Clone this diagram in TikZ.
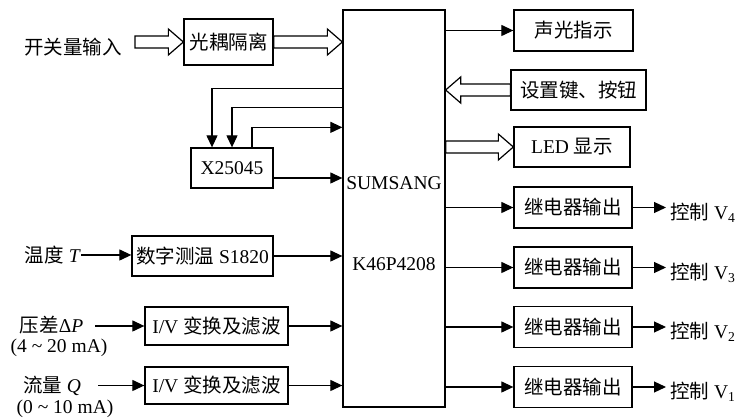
\documentclass[tikz,border=0pt]{standalone}
\usepackage{fontspec}
\setmainfont{Liberation Serif}
\newfontfamily\cjk{Noto Sans CJK SC}
\usetikzlibrary{calc,positioning,arrows.meta}
\newcommand{\zh}[1]{{\cjk #1}}
\tikzset{
    >={Triangle[length=12pt,width=11pt]},
    blokk/.style={
        rectangle,
        draw=black, line width=1.3pt,
        inner sep=0pt,
        text centered,
        font=\fontsize{19.5}{22}\selectfont
    },
    tekst/.style={inner sep=0pt, font=\fontsize{19.5}{22}\selectfont},
    line/.style={draw, line width=1.2pt, ->},
    wire/.style={draw, line width=1.2pt},
    hul/.style={draw, line width=1.2pt, fill=white}
}
\newcommand{\hulpil}[2]{%
    \coordinate (ha) at #1;
    \coordinate (hb) at #2;
    \coordinate (hh) at ($(hb)!15pt!(ha)$);
    \draw[hul] ($(ha)!6pt!90:(hb)$) -- ($(hh)!6pt!90:(hb)$) -- ($(hh)!13pt!90:(hb)$) -- (hb)
        -- ($(hh)!13pt!-90:(hb)$) -- ($(hh)!6pt!-90:(hb)$) -- ($(ha)!6pt!-90:(hb)$) -- cycle;
}
\begin{document}
\begin{tikzpicture}[x=1pt,y=-1pt]
    \useasboundingbox (0,0) rectangle (740,419);

    % -- MCU -- %
    \node[blokk, minimum width=102pt, minimum height=397pt] (mcu) at (394,208.5) {};
    \node[tekst] (mcuA) at (394,183) {SUMSANG};
    \node[tekst] (mcuB) at (394,264) {K46P4208};

    % -- Inputs -- %
    \node[tekst] (kg) at (73,47) {\zh{开关量输入}};
    \node[blokk, minimum width=89pt, minimum height=46pt] (gdgl) at (228.5,42) {\zh{光耦隔离}};
    \hulpil{([xshift=13pt]kg.east |- gdgl.west)}{(gdgl.west)}
    \hulpil{(gdgl.east)}{(gdgl.east -| mcu.west)}

    \node[blokk, minimum width=82pt, minimum height=40pt] (x25) at (232,168) {X25045};
    \draw[line] ($(mcu.north west)+(0,79)$) -| ([xshift=-20pt]x25.north);
    \draw[line] ($(mcu.north west)+(0,98)$) -| (x25.north);
    \draw[line] ([xshift=20pt]x25.north) |- ($(mcu.north west)+(0,118)$);
    \draw[line] ([yshift=-10pt]x25.east) -- ([yshift=-10pt]x25.east -| mcu.west);

    \node[tekst, anchor=east] (wd) at (81,255) {\zh{温度} \textit{T}};
    \node[blokk, minimum width=141pt, minimum height=40pt] (sz) at (202.5,256) {\zh{数字测温} S1820};
    \draw[line] (wd.east) -- (wd.east -| sz.west);
    \draw[line] (sz.east) -- (sz.east -| mcu.west);

    \node[tekst] (yc) at (51.5,325) {\zh{压差}Δ\textit{P}};
    \node[tekst] (ycma) at (59,348) {(4 \textasciitilde{} 20 mA)};
    \node[blokk, minimum width=143pt, minimum height=38pt] (iv1) at (216.5,326) {I/V \zh{变换及滤波}};
    \draw[line] ([xshift=12pt]yc.east |- iv1.west) -- (iv1.west);
    \draw[line] (iv1.east) -- (iv1.east -| mcu.west);

    \node[tekst] (ll) at (52,386) {\zh{流量} \textit{Q}};
    \node[tekst] (llma) at (65,409) {(0 \textasciitilde{} 10 mA)};
    \node[blokk, minimum width=143pt, minimum height=37pt] (iv2) at (216.5,385.5) {I/V \zh{变换及滤波}};
    \draw[line] ([xshift=17pt]ll.east |- iv2.west) -- (iv2.west);
    \draw[line] (iv2.east) -- (iv2.east -| mcu.west);

    % -- Outputs -- %
    \node[blokk, minimum width=119pt, minimum height=41pt] (sg) at (573.5,30.5) {\zh{声光指示}};
    \draw[line] (sg.west -| mcu.east) -- (sg.west);

    \node[blokk, minimum width=135pt, minimum height=40pt] (szj) at (578.5,90) {\zh{设置键、按钮}};
    \hulpil{(szj.west)}{(szj.west -| mcu.east)}

    \node[blokk, minimum width=116pt, minimum height=40pt] (led) at (572,147) {LED \zh{显示}};
    \hulpil{(led.west -| mcu.east)}{(led.west)}

    \foreach \i/\y/\v in {1/207.5/4, 2/267.5/3, 3/327/2, 4/387/1} {
        \node[blokk, minimum width=118pt, minimum height=41pt] (jdq\i) at (573,\y) {\zh{继电器输出}};
        \draw[line] (jdq\i.west -| mcu.east) -- (jdq\i.west);
        \node[tekst, anchor=west, inner xsep=4pt] (kz\i) at (666,\y+5) {\zh{控制} V\textsubscript{\v}};
        \draw[line] (jdq\i.east) -- (kz\i.west |- jdq\i.east);
    }
\end{tikzpicture}
\end{document}
